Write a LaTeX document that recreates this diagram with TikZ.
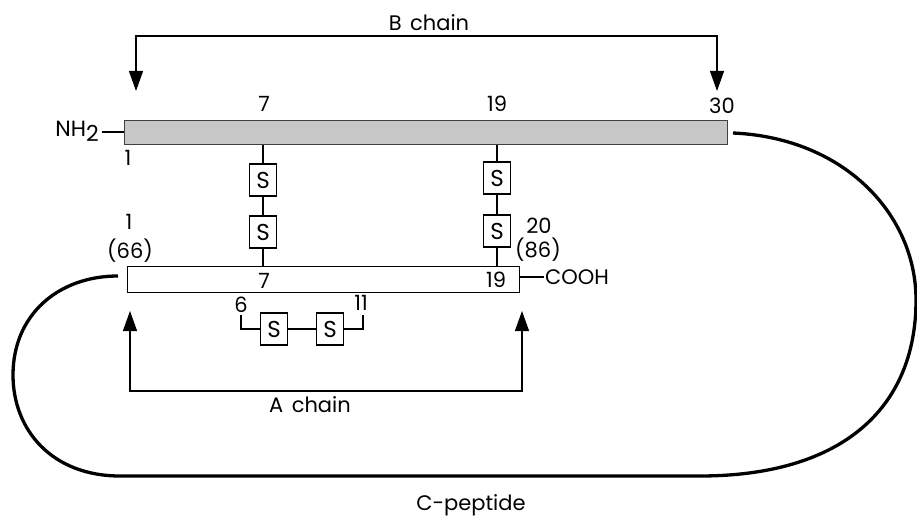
\documentclass[tikz,border=0pt]{standalone}
\usepackage{fontspec}
\setmainfont{Poppins}
\usetikzlibrary{arrows.meta}
\begin{document}
\begin{tikzpicture}[x=1pt,y=-1pt,
  lbl/.style={inner sep=0pt,font=\fontsize{21}{23}\selectfont},
  sbox/.style={draw,line width=1.3pt,minimum width=27pt,minimum height=32pt,inner sep=0pt,font=\fontsize{23}{25}\selectfont},
  bond/.style={line width=1.3pt},
  brk/.style={line width=1.3pt},
  arr/.style={brk,-{Triangle[length=20pt,width=14pt]}},
  loop/.style={line width=3.3pt}]
\useasboundingbox (0,0) rectangle (917,518);
% B chain bar
\node[draw=black!75,line width=1.3pt,fill=black!22,minimum width=603pt,minimum height=24pt,inner sep=0pt,anchor=north west] (B) at (124,120) {};
% A chain bar
\node[draw,line width=1.3pt,fill=white,minimum width=392pt,minimum height=26pt,inner sep=0pt,anchor=north west] (A) at (127,266) {};
% B chain bracket
\coordinate (bl) at (136,36);
\coordinate (br) at (717,36);
\coordinate (blt) at (136,91);
\coordinate (brt) at (717,91);
\draw[arr] (br) -- (bl) -- (blt);
\draw[arr] (bl) -- (br) -- (brt);
\node[lbl] (Bt) at (429,23) {B\hspace{0.4em}chain};
% A chain bracket
\coordinate (al) at (130,391);
\coordinate (ar) at (522,391);
\coordinate (alt) at (130,311);
\coordinate (art) at (522,311);
\draw[arr] (ar) -- (al) -- (alt);
\draw[arr] (al) -- (ar) -- (art);
\node[lbl] (At) at (310,405) {A\hspace{0.4em}chain};
% NH2
\coordinate (nh) at (102,132);
\draw[bond] (nh) -- (B.west |- nh);
\node[lbl,anchor=east,font=\fontsize{22}{24}\selectfont] (NH) at (99,131) {NH\raisebox{-0.4ex}{2}};
% COOH
\coordinate (co) at (544,277);
\draw[bond] (A.east |- co) -- (co);
\node[lbl,anchor=west] (COOH) at (545,277) {COOH};
% labels on B
\node[lbl] (b1) at (128,158) {1};
\node[lbl] (b7) at (264,104) {7};
\node[lbl] (b19) at (497,104) {19};
\node[lbl] (b30) at (722,106) {30};
% labels on A
\node[lbl] (a1) at (129,222) {1};
\node[lbl] (a66) at (130,251) {(66)};
\node[lbl] (a7) at (264,281) {7};
\node[lbl] (a19) at (496,280) {19};
\node[lbl] (a20) at (539,226) {20};
\node[lbl] (a86) at (538,250) {(86)};
% disulfide bridges B7-A7
\node[sbox] (s1) at (263,180) {S};
\node[sbox] (s2) at (263,232) {S};
\draw[bond] (B.south -| s1) -- (s1) -- (s2) -- (A.north -| s2);
% B19-A20
\node[sbox] (s3) at (497,178) {S};
\node[sbox] (s4) at (497,231) {S};
\draw[bond] (B.south -| s3) -- (s3) -- (s4) -- (A.north -| s4);
% intra A6-A11
\node[lbl] (a6) at (241,305) {6};
\node[lbl] (a11) at (361,303) {11};
\node[sbox] (s5) at (274,329) {S};
\node[sbox] (s6) at (330,329) {S};
\coordinate (c6) at (241,315);
\coordinate (c11) at (363,315);
\draw[bond] (c6) |- (s5.west);
\draw[bond] (s5) -- (s6);
\draw[bond] (c11) |- (s6.east);
% C-peptide
\coordinate (cs) at (733,133);
\coordinate (ce) at (118,276);
\draw[loop] (cs) .. controls (845,138) and (916,215) .. (916,300)
  .. controls (916,410) and (840,476) .. (700,476)
  -- (120,476)
  .. controls (52,476) and (13,430) .. (13,375)
  .. controls (13,315) and (58,276) .. (ce);
\node[lbl] (Cp) at (471,505) {C-peptide};
\end{tikzpicture}
\end{document}
